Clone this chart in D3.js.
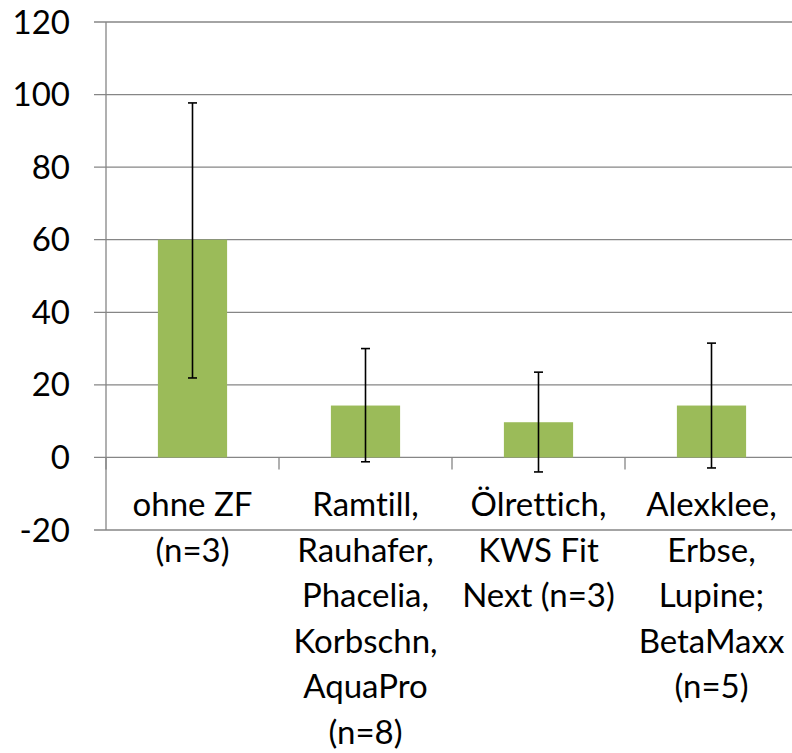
<!DOCTYPE html>
<html><head><meta charset="utf-8">
<script src="https://cdn.jsdelivr.net/npm/d3@7"></script>
<style>html,body{margin:0;padding:0;background:#fff;overflow:hidden} text{font-variant-ligatures:none;font-feature-settings:"liga" 0,"clig" 0}</style>
</head><body>
<svg id="chart" width="792" height="753"></svg>
<script>
const categories = ["ohne ZF\n(n=3)", "Ramtill,\nRauhafer,\nPhacelia,\nKorbschn,\nAquaPro\n(n=8)", "Ölrettich,\nKWS Fit\nNext (n=3)", "Alexklee,\nErbse,\nLupine;\nBetaMaxx\n(n=5)"];
const values = [60, 14.3, 9.7, 14.3];
const errLow = [21.9, -1.2, -4.0, -2.9];
const errHigh = [97.7, 30.0, 23.5, 31.5];
const yTicks = [-20, 0, 20, 40, 60, 80, 100, 120];

const FONT = "Lato, 'Open Sans', sans-serif";
const FS = 33;
const svg = d3.select("#chart");
const plotLeft = 106, plotRight = 798, plotTop = 22, plotBottom = 530;

const x = d3.scaleBand().domain(categories).range([plotLeft, plotRight]).paddingInner(0.6).paddingOuter(0.3);
const step = x.step();
const y = d3.scaleLinear().domain([-20, 120]).range([plotBottom, plotTop]);

// gridlines
svg.append("g").selectAll("line").data(yTicks).join("line")
  .attr("x1", plotLeft - 12).attr("x2", plotRight)
  .attr("y1", d => y(d)).attr("y2", d => y(d))
  .attr("stroke", "#868686").attr("stroke-width", 1.3);

// y axis line
svg.append("line").attr("x1", plotLeft).attr("x2", plotLeft).attr("y1", plotTop).attr("y2", plotBottom)
  .attr("stroke", "#868686").attr("stroke-width", 1.3);

// category boundary ticks
const bounds = categories.map(c => x(c) - step * 0.3).concat([plotRight]);
svg.append("g").selectAll("line").data(bounds).join("line")
  .attr("x1", d => d).attr("x2", d => d)
  .attr("y1", y(0)).attr("y2", y(0) + 12)
  .attr("stroke", "#868686").attr("stroke-width", 1.3);

// y labels
svg.append("g").selectAll("text").data(yTicks).join("text")
  .attr("x", 70).attr("y", d => y(d)).attr("dy", "0.35em")
  .attr("text-anchor", "end").attr("font-family", FONT).attr("font-size", FS)
  .attr("fill", "#000").text(d => d);

// bars
svg.append("g").selectAll("rect").data(categories).join("rect")
  .attr("x", d => x(d)).attr("width", x.bandwidth())
  .attr("y", (d, i) => y(Math.max(0, values[i])))
  .attr("height", (d, i) => Math.abs(y(values[i]) - y(0)))
  .attr("fill", "#9BBB59");

// error bars
const eb = svg.append("g").attr("stroke", "#000").attr("stroke-width", 1.6);
categories.forEach((c, i) => {
  const cx = x(c) + x.bandwidth() / 2;
  eb.append("line").attr("x1", cx).attr("x2", cx).attr("y1", y(errLow[i])).attr("y2", y(errHigh[i]));
  eb.append("line").attr("x1", cx - 4.5).attr("x2", cx + 4.5).attr("y1", y(errLow[i])).attr("y2", y(errLow[i]));
  eb.append("line").attr("x1", cx - 4.5).attr("x2", cx + 4.5).attr("y1", y(errHigh[i])).attr("y2", y(errHigh[i]));
});

// category labels
const lbl = svg.append("g");
categories.forEach(c => {
  const cx = x(c) + x.bandwidth() / 2;
  const t = lbl.append("text").attr("text-anchor", "middle").attr("font-family", FONT)
    .attr("font-size", FS).attr("fill", "#000");
  c.split("\n").forEach((line, j) => {
    t.append("tspan").attr("x", cx).attr("y", 516 + j * 45.5).text(line);
  });
});
</script>
</body></html>
